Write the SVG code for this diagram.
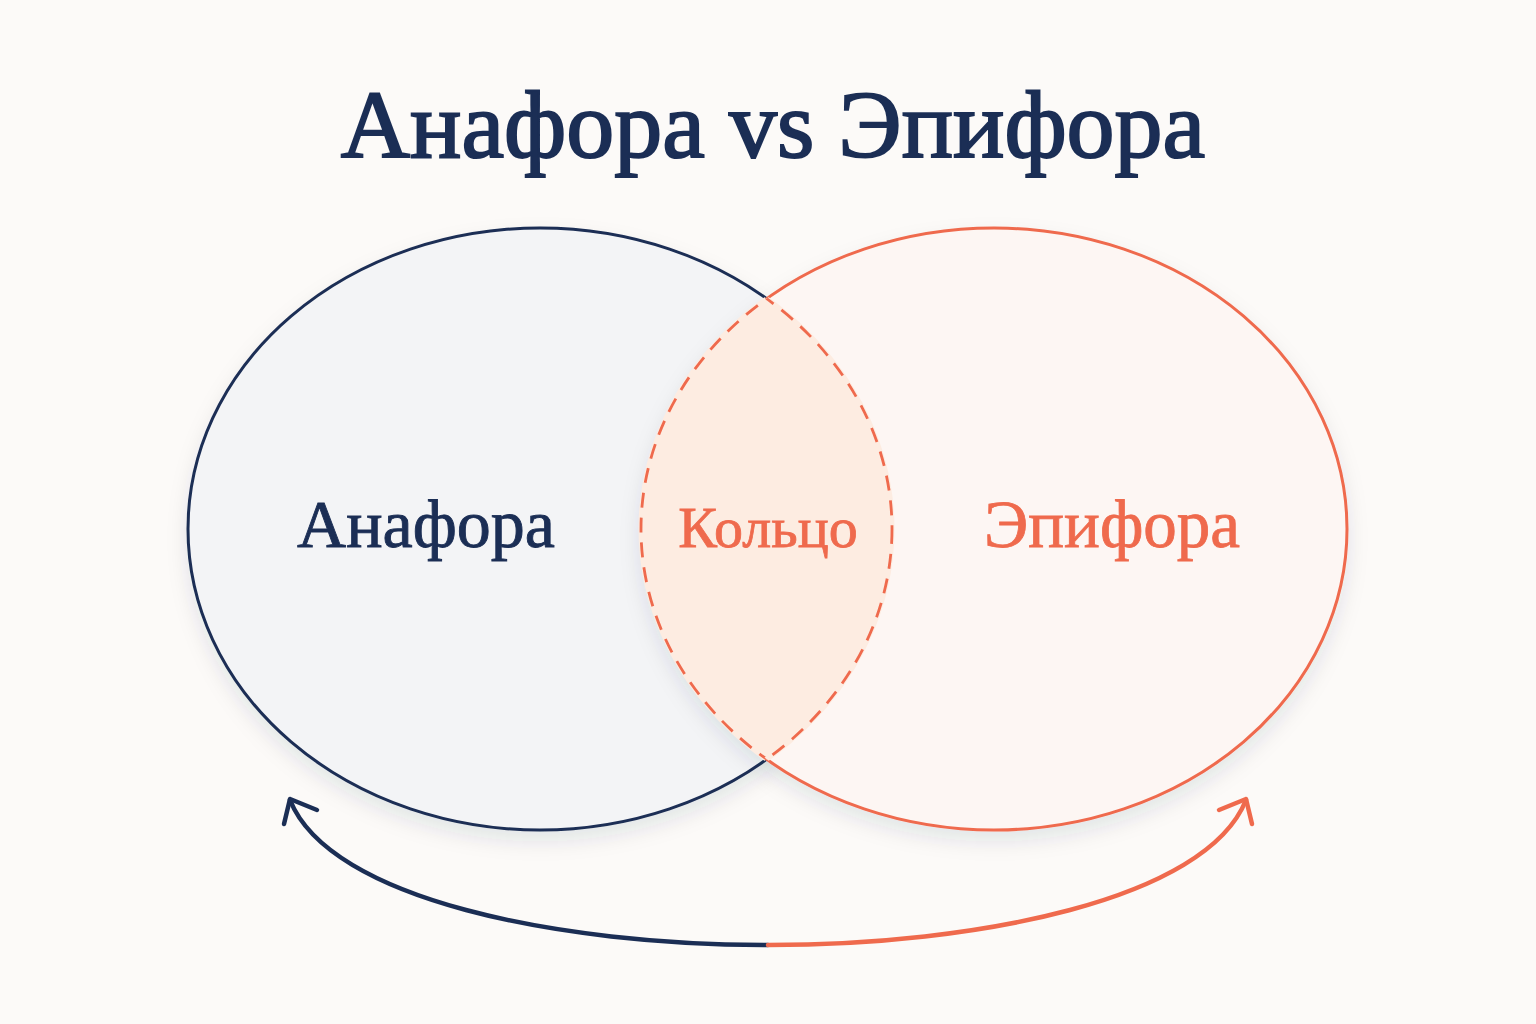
<svg xmlns="http://www.w3.org/2000/svg" width="1536" height="1024" viewBox="0 0 1536 1024">
<defs>
<filter id="sh" x="-20%" y="-20%" width="140%" height="140%">
<feDropShadow dx="0" dy="10" stdDeviation="10" flood-color="#1b2e55" flood-opacity="0.10"/>
</filter>
<clipPath id="leftClip"><ellipse cx="540" cy="529" rx="352" ry="301"/></clipPath>
<clipPath id="rightClip"><ellipse cx="994" cy="529" rx="353" ry="301"/></clipPath>
<style>
.t{font-family:"Liberation Serif","Times New Roman",serif;}
.navy{fill:#1b2e55;stroke:#1b2e55}
.coral{fill:#ef6a4d;stroke:#ef6a4d}
.dash{fill:none;stroke:#ef6a4d;stroke-width:2.8;stroke-dasharray:15 10}
.gap{fill:none;stroke:#fdece1;stroke-width:5}
</style>
</defs>
<rect width="1536" height="1024" fill="#fcfaf8"/>
<text class="t navy" x="773" y="157" font-size="96" stroke-width="2" text-anchor="middle">Анафора vs Эпифора</text>
<g id="anaphora">
<ellipse cx="540" cy="529" rx="352" ry="301" fill="#f3f4f6" stroke="#1b2e55" stroke-width="3" filter="url(#sh)"/>
</g>
<g id="epiphora">
<ellipse cx="994" cy="529" rx="353" ry="301" fill="#fdf6f3" stroke="#ef6a4d" stroke-width="3" filter="url(#sh)"/>
</g>
<g id="ring">
<g clip-path="url(#leftClip)">
<ellipse cx="994" cy="529" rx="353" ry="301" fill="#fdece1" stroke="none"/>
<ellipse class="gap" cx="994" cy="529" rx="353" ry="301"/>
<ellipse class="dash" cx="994" cy="529" rx="353" ry="301"/>
</g>
<g clip-path="url(#rightClip)">
<ellipse class="gap" cx="540" cy="529" rx="352" ry="301"/>
<ellipse class="dash" cx="540" cy="529" rx="352" ry="301"/>
</g>
</g>
<text class="t navy" x="426" y="547" font-size="68" stroke-width="0.9" text-anchor="middle">Анафора</text>
<text class="t coral" x="768" y="547" font-size="58" stroke-width="0.8" text-anchor="middle">Кольцо</text>
<text class="t coral" x="1112" y="547" font-size="67" stroke-width="0.8" text-anchor="middle">Эпифора</text>
<g id="connectors" fill="none" stroke-width="4.5" stroke-linecap="round" stroke-linejoin="round">
<path d="M768 945 C560 945 330 900 290 800" stroke="#1b2e55"/>
<path d="M284 824 L290 799 L317 810" stroke="#1b2e55"/>
<path d="M768 945 C976 945 1206 900 1246 800" stroke="#ef6a4d"/>
<path d="M1252 824 L1246 799 L1219 810" stroke="#ef6a4d"/>
</g>
</svg>
